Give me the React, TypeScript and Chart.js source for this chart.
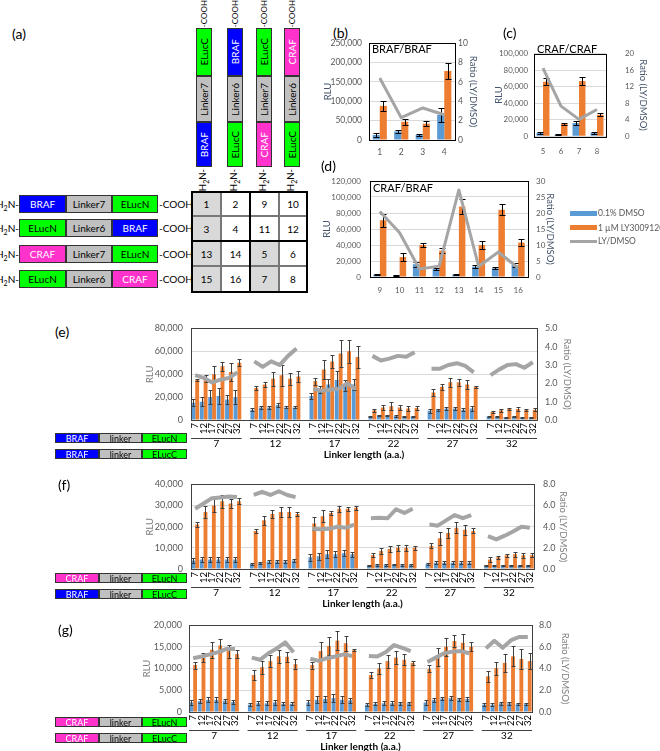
import React, { useEffect, useRef } from 'react';
import { Chart, registerables } from 'chart.js';
Chart.register(...registerables);

const FONT = 'Lato, "Liberation Sans", sans-serif';
const BLUE = '#5B9BD5';
const ORANGE = '#ED7D31';
const GRAY_LINE = '#A5A5A5';

// ---------- Panel (b) BRAF/BRAF ----------
const bCats = ['1', '2', '3', '4'];
const bDmso = [13000, 22000, 13000, 65000];
const bDmsoErr = [5000, 4000, 3000, 18000];
const bLy = [88000, 47000, 42000, 178000];
const bLyErr = [12000, 8000, 6000, 20000];
const bRatio = [6.4, 2.3, 3.3, 2.6];

// ---------- Panel (c) CRAF/CRAF ----------
const cCats = ['5', '6', '7', '8'];
const cDmso = [4000, 2000, 16000, 4000];
const cDmsoErr = [800, 500, 2000, 1500];
const cLy = [66000, 15000, 67000, 26000];
const cLyErr = [4000, 1500, 4500, 2000];
const cRatio = [16.5, 7.3, 4.1, 6.5];

// ---------- Panel (d) CRAF/BRAF ----------
const dCats = ['9', '10', '11', '12', '13', '14', '15', '16'];
const dDmso = [3000, 2000, 16000, 10000, 3000, 13000, 11000, 15000];
const dDmsoErr = [800, 500, 3000, 1500, 800, 2000, 1500, 2000];
const dLy = [71000, 25000, 40000, 33000, 88000, 40000, 84000, 43000];
const dLyErr = [8000, 4500, 3000, 3000, 9000, 5000, 7000, 4000];
const dRatio = [20.5, 13.8, 2.5, 3.4, 27.2, 3.3, 7.8, 2.8];

// ---------- Linker-length panels ----------
const groupLabels = ['7', '12', '17', '22', '27', '32'];
const subLabels = ['7', '12', '17', '22', '27', '32'];

const eDmso = [15000, 16000, 20000, 21000, 18000, 20000, 9000, 11000, 11000, 13000, 11000, 11000, 21000, 27000, 31000, 35000, 30000, 31000, 3000, 4000, 4000, 3500, 3000, 3000, 8000, 9000, 10000, 10000, 9000, 10000, 3000, 3000, 2500, 3000, 2500, 2500];
const eDmsoErr = [3000, 4000, 6000, 7000, 4000, 6000, 1500, 1000, 1500, 1500, 800, 800, 3000, 3000, 5000, 8000, 5000, 5000, 500, 600, 800, 600, 500, 500, 1500, 1000, 1200, 1000, 1200, 2000, 500, 500, 500, 500, 500, 500];
const eLy = [35000, 36000, 40000, 47000, 42000, 50000, 28000, 31000, 36000, 39000, 36000, 38000, 34000, 44000, 51000, 58000, 60000, 55000, 8500, 11000, 12000, 11000, 10000, 10500, 24000, 29000, 33000, 33000, 31000, 29000, 7000, 8500, 9500, 9500, 9000, 9000];
const eLyErr = [1000, 3000, 7000, 4000, 8000, 3000, 2000, 2000, 6000, 9000, 5000, 5000, 3000, 8000, 6000, 12000, 10000, 10000, 1500, 2000, 3500, 2500, 2000, 2000, 3000, 2500, 4000, 3000, 4000, 1000, 1000, 1500, 1000, 1500, 1000, 1500];
const eRatio = [2.45, 2.3, 2.05, 2.2, 2.3, 2.6, 3.2, 2.9, 3.2, 3.0, 3.5, 3.9, 1.7, 1.6, 1.65, 1.7, 2.0, 1.7, 3.5, 3.25, 3.35, 3.5, 3.45, 3.7, 2.8, 2.8, 3.0, 3.1, 2.95, 2.6, 2.45, 2.75, 3.0, 3.05, 2.85, 3.15];

const fDmso = [4000, 4500, 4500, 4500, 4500, 4500, 2500, 3000, 3500, 3500, 3500, 4000, 5500, 6000, 7000, 7000, 7500, 7000, 1800, 2000, 2000, 2000, 2000, 2000, 2500, 3000, 3000, 3000, 3000, 3000, 1800, 1800, 1800, 1800, 1800, 1800];
const fDmsoErr = [1000, 1000, 1200, 1000, 1200, 1000, 500, 500, 600, 600, 600, 600, 1800, 1800, 2000, 1500, 1500, 1200, 300, 400, 400, 300, 400, 400, 500, 600, 600, 600, 600, 600, 300, 300, 300, 300, 300, 300];
const fLy = [21000, 27000, 30000, 32000, 31000, 32000, 18000, 23000, 26000, 27000, 27000, 26000, 21500, 25000, 26500, 28500, 28500, 29000, 6500, 8500, 9500, 10000, 10000, 10000, 11000, 14500, 17000, 19500, 18500, 18000, 4500, 5500, 6500, 7000, 6500, 6500];
const fLyErr = [1000, 3000, 3000, 3000, 2000, 1500, 800, 2000, 2000, 2500, 2500, 1000, 3000, 3000, 1000, 1500, 1000, 1000, 1000, 1500, 1500, 1500, 1500, 800, 1200, 3000, 2500, 2500, 2500, 1200, 1000, 800, 800, 1200, 1200, 1000];
const fRatio = [5.7, 6.2, 6.7, 6.75, 6.85, 6.8, 7.0, 7.3, 7.0, 7.35, 7.0, 6.8, 3.8, 3.75, 3.8, 4.0, 3.9, 4.2, 4.8, 4.85, 4.8, 5.65, 5.3, 5.7, 4.2, 4.1, 4.6, 5.1, 4.8, 5.1, 3.1, 2.8, 3.15, 3.55, 4.0, 3.9];

const gDmso = [2200, 2500, 2800, 2800, 2600, 2300, 1700, 2000, 2000, 2200, 1900, 1900, 2200, 2800, 3000, 3200, 2800, 2700, 1700, 1900, 2000, 2000, 2000, 2000, 2200, 2800, 3100, 3200, 2900, 3000, 1700, 1700, 2000, 2000, 1800, 1800];
const gDmsoErr = [500, 500, 600, 600, 500, 500, 300, 500, 500, 500, 300, 300, 500, 800, 600, 900, 800, 600, 300, 400, 500, 500, 400, 300, 600, 400, 400, 500, 400, 400, 300, 300, 300, 300, 300, 300];
const gLy = [10800, 12500, 14300, 15300, 14000, 13300, 8500, 10300, 11700, 12800, 12700, 11000, 10800, 14000, 15200, 16400, 15800, 14200, 8500, 10000, 11700, 12500, 12000, 11300, 9900, 12600, 15000, 16300, 15900, 15000, 8200, 10100, 11300, 12800, 12200, 11700];
const gLyErr = [800, 1000, 1800, 1500, 1500, 1000, 1200, 1500, 1300, 1500, 1200, 1200, 800, 2000, 2000, 2200, 1700, 200, 700, 1200, 1500, 1500, 1300, 400, 800, 2000, 2100, 1300, 2000, 1000, 1200, 1500, 2000, 2300, 2300, 1800];
const gRatio = [4.95, 5.1, 5.3, 5.5, 5.8, 5.8, 5.0, 4.8, 5.4, 5.85, 6.4, 5.5, 4.9, 4.7, 4.95, 5.1, 5.3, 5.15, 5.15, 5.1, 5.5, 6.15, 5.9, 5.6, 4.6, 5.0, 5.4, 5.55, 5.6, 5.4, 5.85, 6.55, 5.9, 6.6, 6.9, 6.9];

// insert a blank category between groups of six (layout only)
function withGaps<T>(arr: T[], size = 6): (T | null)[] {
  const out: (T | null)[] = [];
  const n = Math.ceil(arr.length / size);
  for (let g = 0; g < n; g++) {
    if (g > 0) out.push(null);
    for (let i = 0; i < size; i++) out.push(arr[g * size + i]);
  }
  return out;
}
const linkerLabels: string[] = withGaps(groupLabels.flatMap(() => subLabels)).map((v) => (v == null ? '' : v));

// ---------- plugins ----------
const errorBarPlugin = {
  id: 'errbars',
  afterDatasetDraw(chart: any, args: any) {
    const ds = chart.data.datasets[args.index];
    if (!ds.errors) return;
    const ctx = chart.ctx;
    const ys = chart.scales[ds.yAxisID || 'y'];
    ctx.save();
    ctx.strokeStyle = ds.errColor || '#000';
    ctx.lineWidth = 1;
    args.meta.data.forEach((bar: any, j: number) => {
      const v = ds.data[j];
      const e = ds.errors[j];
      if (v == null || e == null) return;
      const x = Math.round(bar.x) + 0.5;
      const y1 = Math.round(ys.getPixelForValue(v + e)) + 0.5;
      const y2 = Math.round(ys.getPixelForValue(Math.max(0, v - e))) + 0.5;
      const w = ds.capW || 3;
      ctx.beginPath();
      ctx.moveTo(x, y1);
      ctx.lineTo(x, y2);
      ctx.moveTo(x - w, y1);
      ctx.lineTo(x + w, y1);
      ctx.moveTo(x - w, y2);
      ctx.lineTo(x + w, y2);
      ctx.stroke();
    });
    ctx.restore();
  },
};

const framePlugin = {
  id: 'frame',
  afterDraw(chart: any, _a: any, opts: any) {
    const { left, top, right, bottom } = chart.chartArea;
    const ctx = chart.ctx;
    ctx.save();
    ctx.strokeStyle = (opts && opts.color) || '#404040';
    ctx.lineWidth = 1;
    ctx.strokeRect(Math.round(left) + 0.5, Math.round(top) + 0.5, Math.round(right - left), Math.round(bottom - top));
    ctx.restore();
  },
};

const multiLevelPlugin = {
  id: 'multilevel',
  afterDraw(chart: any, _a: any, opts: any) {
    if (!opts || !opts.enabled) return;
    const ctx = chart.ctx;
    const xs = chart.scales.x;
    const bottom = chart.chartArea.bottom;
    const step = xs.getPixelForValue(1) - xs.getPixelForValue(0);
    ctx.save();
    ctx.fillStyle = '#000';
    ctx.font = `9.5px ${FONT}`;
    chart.data.labels.forEach((lab: string, i: number) => {
      if (!lab) return;
      const px = xs.getPixelForValue(i);
      ctx.save();
      ctx.translate(px, bottom + 3);
      ctx.rotate(-Math.PI / 2);
      ctx.textAlign = 'right';
      ctx.textBaseline = 'middle';
      ctx.fillText(lab, 0, 0);
      ctx.restore();
    });
    ctx.strokeStyle = '#404040';
    ctx.lineWidth = 1;
    ctx.textAlign = 'center';
    ctx.textBaseline = 'middle';
    ctx.font = `10px ${FONT}`;
    opts.groups.forEach((g: string, k: number) => {
      const a = xs.getPixelForValue(k * 7) - step / 2;
      const b = xs.getPixelForValue(k * 7 + 5) + step / 2;
      ctx.beginPath();
      ctx.moveTo(a, Math.round(bottom + 18) + 0.5);
      ctx.lineTo(b, Math.round(bottom + 18) + 0.5);
      ctx.stroke();
      ctx.fillText(g, (a + b) / 2, bottom + 24);
    });
    ctx.font = `bold 10px ${FONT}`;
    const { left, right } = chart.chartArea;
    ctx.fillText(opts.title, (left + right) / 2, bottom + 35);
    ctx.restore();
  },
};

type Spec = {
  left: number; top: number; width: number; height: number;
  labels: string[];
  dmso: (number | null)[]; dmsoErr: (number | null)[];
  ly: (number | null)[]; lyErr: (number | null)[];
  ratio: (number | null)[];
  yMax: number; yStep: number; y1Max: number; y1Step: number; y1Dec: number;
  padTop: number; lw: number; rw: number; bh: number;
  yTickPad: number; y1TickPad: number; yTitlePad: number; y1TitlePad: number;
  titleColor: string; xTicks: boolean; xTickPad: number; fs: number; tfs: number;
  lineW: number; errColor: string; catPct: number; capW: number;
  frameColor: string; multi: boolean;
};

function ComboChart({ s }: { s: Spec }) {
  const ref = useRef<HTMLCanvasElement | null>(null);
  useEffect(() => {
    if (!ref.current) return;
    const tickFont = { family: FONT, size: s.fs };
    const titleFont = { family: FONT, size: s.tfs };
    const chart = new Chart(ref.current, {
      type: 'bar',
      data: {
        labels: s.labels,
        datasets: [
          { type: 'line', label: 'LY/DMSO', data: s.ratio, yAxisID: 'y1', borderColor: GRAY_LINE, backgroundColor: GRAY_LINE, borderWidth: s.lineW, pointRadius: 0, spanGaps: false, order: 0, tension: 0, borderJoinStyle: 'round', borderCapStyle: 'butt' } as any,
          { type: 'bar', label: '0.1% DMSO', data: s.dmso, errors: s.dmsoErr, errColor: s.errColor, capW: s.capW, backgroundColor: BLUE, yAxisID: 'y', order: 1, categoryPercentage: s.catPct, barPercentage: 1 } as any,
          { type: 'bar', label: '1 µM LY3009120', data: s.ly, errors: s.lyErr, errColor: s.errColor, capW: s.capW, backgroundColor: ORANGE, yAxisID: 'y', order: 1, categoryPercentage: s.catPct, barPercentage: 1 } as any,
        ],
      },
      options: {
        animation: false,
        responsive: false,
        maintainAspectRatio: false,
        layout: { padding: { top: s.padTop, left: 0, right: 0, bottom: 0 } },
        plugins: {
          legend: { display: false },
          tooltip: { enabled: false },
          frame: { color: s.frameColor },
          multilevel: { enabled: s.multi, groups: groupLabels, title: 'Linker length (a.a.)' },
        } as any,
        scales: {
          x: {
            type: 'category',
            grid: { display: false, drawTicks: false },
            border: { display: false },
            ticks: { display: s.xTicks, color: '#595959', font: tickFont, padding: s.xTickPad, maxRotation: 0, autoSkip: false },
            afterFit: (sc: any) => { sc.height = s.bh; },
          },
          y: {
            position: 'left',
            min: 0, max: s.yMax,
            grid: { color: '#D9D9D9', drawTicks: false },
            border: { display: false },
            ticks: { stepSize: s.yStep, color: '#595959', font: tickFont, padding: s.yTickPad, callback: (v: any) => Number(v).toLocaleString('en-US') },
            title: { display: true, text: 'RLU', color: s.titleColor, font: titleFont, padding: { top: s.yTitlePad, bottom: 0 } },
            afterFit: (sc: any) => { sc.width = s.lw; },
          },
          y1: {
            position: 'right',
            min: 0, max: s.y1Max,
            grid: { display: false, drawTicks: false },
            border: { display: false },
            ticks: { stepSize: s.y1Step, color: '#595959', font: tickFont, padding: s.y1TickPad, callback: (v: any) => Number(v).toFixed(s.y1Dec) },
            title: { display: true, text: 'Ratio (LY/DMSO)', color: s.titleColor, font: titleFont, padding: { top: s.y1TitlePad, bottom: 0 } },
            afterFit: (sc: any) => { sc.width = s.rw; },
          },
        },
      } as any,
      plugins: [errorBarPlugin, framePlugin, multiLevelPlugin] as any,
    });
    return () => chart.destroy();
  }, [s]);
  return (
    <canvas
      ref={ref}
      width={s.width}
      height={s.height}
      style={{ position: 'absolute', left: s.left, top: s.top, width: s.width, height: s.height }}
    />
  );
}

const small = { titleColor: '#44546A', xTicks: true, lineW: 3, errColor: '#000', capW: 3, frameColor: '#000', multi: false, y1Dec: 0, tfs: 9.5 };
const big = { titleColor: '#7F7F7F', xTicks: false, xTickPad: 0, lineW: 4, errColor: '#404040', capW: 2, catPct: 0.92, frameColor: '#404040', multi: true, y1Dec: 1, fs: 9, tfs: 9.5 };

const specB: Spec = { ...small, left: 318, top: 30, width: 166, height: 130, labels: bCats, dmso: bDmso, dmsoErr: bDmsoErr, ly: bLy, lyErr: bLyErr, ratio: bRatio, yMax: 250000, yStep: 50000, y1Max: 10, y1Step: 2, padTop: 13, lw: 51, rw: 29, bh: 20, yTickPad: 7, y1TickPad: 3, yTitlePad: 4, y1TitlePad: 5, xTickPad: 7, catPct: 0.66, fs: 8.5 };
const specC: Spec = { ...small, left: 490, top: 30, width: 170, height: 130, labels: cCats, dmso: cDmso, dmsoErr: cDmsoErr, ly: cLy, lyErr: cLyErr, ratio: cRatio, yMax: 100000, yStep: 20000, y1Max: 20, y1Step: 4, padTop: 13, lw: 44, rw: 54, bh: 20, yTickPad: 6, y1TickPad: 19, yTitlePad: 3, y1TitlePad: 11, xTickPad: 10, catPct: 0.72, fs: 7.8 };
const specD: Spec = { ...small, left: 318, top: 165, width: 245, height: 135, labels: dCats, dmso: dDmso, dmsoErr: dDmsoErr, ly: dLy, lyErr: dLyErr, ratio: dRatio, yMax: 120000, yStep: 20000, y1Max: 30, y1Step: 5, padTop: 16, lw: 52, rw: 35, bh: 23, yTickPad: 9, y1TickPad: 8, yTitlePad: 3, y1TitlePad: 7, xTickPad: 9, catPct: 0.66, fs: 8 };
const specE: Spec = { ...big, left: 100, top: 315, width: 500, height: 147, labels: linkerLabels, dmso: withGaps(eDmso), dmsoErr: withGaps(eDmsoErr), ly: withGaps(eLy), lyErr: withGaps(eLyErr), ratio: withGaps(eRatio), yMax: 80000, yStep: 20000, y1Max: 5, y1Step: 1, padTop: 11, lw: 91, rw: 63, bh: 42, yTickPad: 8, y1TickPad: 8, yTitlePad: 44, y1TitlePad: 27 };
const specF: Spec = { ...big, left: 100, top: 470, width: 500, height: 140, labels: linkerLabels, dmso: withGaps(fDmso), dmsoErr: withGaps(fDmsoErr), ly: withGaps(fLy), lyErr: withGaps(fLyErr), ratio: withGaps(fRatio), yMax: 40000, yStep: 10000, y1Max: 8, y1Step: 2, padTop: 12, lw: 91, rw: 66, bh: 41, yTickPad: 8, y1TickPad: 9, yTitlePad: 44, y1TitlePad: 31 };
const specG: Spec = { ...big, left: 100, top: 612, width: 500, height: 139, labels: linkerLabels, dmso: withGaps(gDmso), dmsoErr: withGaps(gDmsoErr), ly: withGaps(gLy), lyErr: withGaps(gLyErr), ratio: withGaps(gRatio), yMax: 20000, yStep: 5000, y1Max: 8, y1Step: 2, padTop: 13, lw: 89, rw: 68, bh: 39, yTickPad: 7, y1TickPad: 7, yTitlePad: 41, y1TitlePad: 29 };

// ---------- HTML helpers ----------
const T = (p: { x: number; y: number; text: React.ReactNode; size?: number; color?: string; bold?: boolean; align?: 'left' | 'center' | 'right'; w?: number }) => {
  const w = p.w ?? 200;
  const left = p.align === 'center' ? p.x - w / 2 : p.align === 'right' ? p.x - w : p.x;
  return (
    <div style={{ position: 'absolute', left, top: p.y - 8, width: w, height: 16, lineHeight: '16px', fontSize: p.size ?? 10, color: p.color ?? '#000', fontWeight: p.bold ? 700 : 400, textAlign: p.align ?? 'left', whiteSpace: 'nowrap', fontFamily: FONT }}>
      {p.text}
    </div>
  );
};

const COLORS: Record<string, { bg: string; fg: string }> = {
  BRAF: { bg: '#0000FF', fg: '#FFFFFF' },
  CRAF: { bg: '#FF33CC', fg: '#FFFFFF' },
  ELucN: { bg: '#00FF00', fg: '#000000' },
  ELucC: { bg: '#00FF00', fg: '#000000' },
  linker: { bg: '#C0C0C0', fg: '#000000' },
};
const colorOf = (name: string) => COLORS[name] ?? COLORS.linker;

function HBox({ x, y, w, h, name, size = 10 }: { x: number; y: number; w: number; h: number; name: string; size?: number }) {
  const c = colorOf(name);
  return (
    <div style={{ position: 'absolute', left: x, top: y, width: w, height: h, boxSizing: 'border-box', border: '1px solid #333', background: c.bg, color: c.fg, fontSize: size, fontFamily: FONT, display: 'flex', alignItems: 'center', justifyContent: 'center', lineHeight: 1 }}>
      {name}
    </div>
  );
}

function VBox({ x, y, w, h, name }: { x: number; y: number; w: number; h: number; name: string }) {
  const c = colorOf(name);
  return (
    <div style={{ position: 'absolute', left: x, top: y, width: w, height: h, boxSizing: 'border-box', border: '1px solid #333', background: c.bg, color: c.fg, fontSize: 10, fontFamily: FONT, display: 'flex', alignItems: 'center', justifyContent: 'center' }}>
      <span style={{ writingMode: 'vertical-rl', transform: 'rotate(180deg)', lineHeight: 1 }}>{name}</span>
    </div>
  );
}

// vertical text positioned by its top edge (reads bottom-to-top)
function VText({ x, top, text, size = 9.5 }: { x: number; top: number; text: React.ReactNode; size?: number }) {
  return (
    <div style={{ position: 'absolute', left: x - 7, top, width: 14, fontSize: size, fontFamily: FONT, display: 'flex', justifyContent: 'center' }}>
      <span style={{ writingMode: 'vertical-rl', transform: 'rotate(180deg)', lineHeight: 1, whiteSpace: 'nowrap' }}>{text}</span>
    </div>
  );
}

const H2N = (<span>H<sub style={{ fontSize: 7 }}>2</sub>N-</span>);

const vCols = [
  { x: 204, parts: ['ELucC', 'Linker7', 'BRAF'] },
  { x: 235, parts: ['BRAF', 'Linker6', 'ELucC'] },
  { x: 264, parts: ['ELucC', 'Linker7', 'CRAF'] },
  { x: 292, parts: ['CRAF', 'Linker6', 'ELucC'] },
];
const hRows = [
  { y: 204, parts: ['BRAF', 'Linker7', 'ELucN'] },
  { y: 228, parts: ['ELucN', 'Linker6', 'BRAF'] },
  { y: 254, parts: ['CRAF', 'Linker7', 'ELucN'] },
  { y: 279, parts: ['ELucN', 'Linker6', 'CRAF'] },
];
const tableNums = [
  ['1', '2', '9', '10'],
  ['3', '4', '11', '12'],
  ['13', '14', '5', '6'],
  ['15', '16', '7', '8'],
];
const greyCells = ['1', '3', '13', '15', '5', '7'];
const colEdges = [192, 221, 250, 279, 307];
const rowEdges = [192, 216, 241, 266, 292];

function PanelA() {
  const vY = [28, 76, 122, 167];
  const hX = [19, 66, 112, 158];
  return (
    <>
      {vCols.map((c, i) => (
        <React.Fragment key={'v' + i}>
          <VText x={c.x} top={0} text="-COOH" size={8} />
          {c.parts.map((p, j) => (
            <VBox key={j} x={c.x - 8} y={vY[j]} w={16} h={vY[j + 1] - vY[j]} name={p} />
          ))}
          <VText x={c.x} top={169} text={H2N} />
        </React.Fragment>
      ))}
      {hRows.map((r, i) => (
        <React.Fragment key={'h' + i}>
          <T x={19} y={r.y} text={H2N} align="right" w={30} />
          {r.parts.map((p, j) => (
            <HBox key={j} x={hX[j]} y={r.y - 9} w={hX[j + 1] - hX[j]} h={18} name={p} />
          ))}
          <T x={159} y={r.y} text="-COOH" />
        </React.Fragment>
      ))}
      {tableNums.map((row, ri) =>
        row.map((n, ci) => (
          <div key={'c' + ri + ci} style={{ position: 'absolute', left: colEdges[ci], top: rowEdges[ri], width: colEdges[ci + 1] - colEdges[ci], height: rowEdges[ri + 1] - rowEdges[ri], boxSizing: 'border-box', border: '0.5px solid #777', background: greyCells.includes(n) ? '#D9D9D9' : '#fff', display: 'flex', alignItems: 'center', justifyContent: 'center', fontSize: 10, fontFamily: FONT }}>
            {n}
          </div>
        ))
      )}
      <div style={{ position: 'absolute', left: colEdges[0] - 1, top: rowEdges[0] - 1, width: colEdges[4] - colEdges[0] + 2, height: rowEdges[4] - rowEdges[0] + 2, boxSizing: 'border-box', border: '2px solid #000' }} />
      <div style={{ position: 'absolute', left: colEdges[2] - 1, top: rowEdges[0], width: 2, height: rowEdges[4] - rowEdges[0], background: '#000' }} />
      <div style={{ position: 'absolute', left: colEdges[0], top: rowEdges[2] - 1, width: colEdges[4] - colEdges[0], height: 2, background: '#000' }} />
    </>
  );
}

function Constructs({ y1, y2, first1, first2 }: { y1: number; y2: number; first1: string; first2: string }) {
  const xs = [55, 99, 142, 187];
  const rows = [
    { y: y1, parts: [first1, 'linker', 'ELucN'] },
    { y: y2, parts: [first2, 'linker', 'ELucC'] },
  ];
  return (
    <>
      {rows.map((r, i) =>
        r.parts.map((p, j) => (
          <HBox key={i + '-' + j} x={xs[j]} y={r.y} w={xs[j + 1] - xs[j]} h={10} name={p} size={9} />
        ))
      )}
    </>
  );
}

export default function App() {
  return (
    <div style={{ position: 'absolute', left: 0, top: 0, width: 660, height: 751, overflow: 'hidden', background: '#fff', fontFamily: FONT }}>
      <T x={12} y={34} text="(a)" size={14} />
      <PanelA />

      <T x={333} y={33} text="(b)" size={14} />
      <ComboChart s={specB} />
      <T x={372} y={49} text="BRAF/BRAF" size={11} />

      <T x={503} y={33} text="(c)" size={14} />
      <ComboChart s={specC} />
      <T x={537} y={49} text="CRAF/CRAF" size={11} />

      <T x={321} y={166} text="(d)" size={14} />
      <ComboChart s={specD} />
      <T x={373} y={188} text="CRAF/BRAF" size={11} />
      <div style={{ position: 'absolute', left: 570, top: 211, width: 27, height: 5, background: BLUE }} />
      <T x={598} y={213} text="0.1% DMSO" color="#595959" size={8.5} />
      <div style={{ position: 'absolute', left: 570, top: 225, width: 27, height: 5, background: ORANGE }} />
      <T x={598} y={228} text="1 µM LY3009120" color="#595959" size={8.5} />
      <div style={{ position: 'absolute', left: 570, top: 240, width: 27, height: 3, background: GRAY_LINE }} />
      <T x={598} y={241} text="LY/DMSO" color="#595959" size={8.5} />

      <T x={55} y={332} text="(e)" size={14} />
      <ComboChart s={specE} />
      <Constructs y1={433} y2={449} first1="BRAF" first2="BRAF" />

      <T x={58} y={485} text="(f)" size={14} />
      <ComboChart s={specF} />
      <Constructs y1={573} y2={589} first1="CRAF" first2="BRAF" />

      <T x={58} y={630} text="(g)" size={14} />
      <ComboChart s={specG} />
      <Constructs y1={717} y2={733} first1="CRAF" first2="CRAF" />
    </div>
  );
}
